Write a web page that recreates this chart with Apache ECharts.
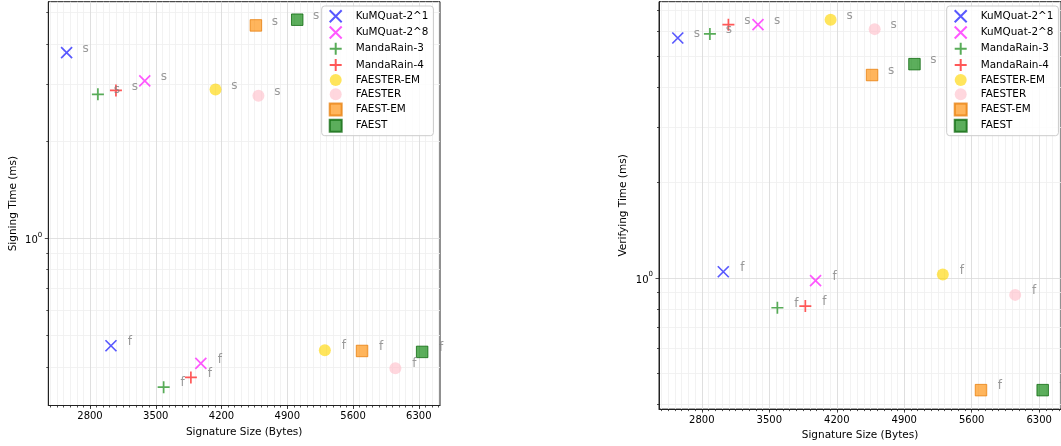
<!DOCTYPE html>
<html><head><meta charset="utf-8">
<script src="https://cdn.jsdelivr.net/npm/echarts@6/dist/echarts.min.js"></script>
<style>html,body{margin:0;padding:0;background:#fff}#c{width:1061px;height:446px}</style>
</head><body><div id="c"></div><script>
// ---- data ----
const schemes = ['KuMQuat-2^1','KuMQuat-2^8','MandaRain-3','MandaRain-4','FAESTER-EM','FAESTER','FAEST-EM','FAEST'];
const sizeS   = [2551, 3383, 2884, 3076, 4136, 4593, 4566, 5006];
const sizeF   = [3023, 3980, 3584, 3874, 5300, 6051, 5696, 6336];
const signS   = [3.755, 3.07, 2.79, 2.87, 2.89, 2.76, 4.56, 4.75];
const signF   = [0.465, 0.41, 0.346, 0.371, 0.45, 0.396, 0.448, 0.445];
const verifyS = [5.72, 6.30, 5.89, 6.30, 6.53, 6.10, 4.37, 4.73];
const verifyF = [1.047, 0.981, 0.806, 0.816, 1.027, 0.885, 0.443, 0.443];
const xMajorTicks = [2800, 3500, 4200, 4900, 5600, 6300];
const xMinorTicks = [];
for (let v = 2380; v <= 6510; v += 70) xMinorTicks.push(v);
const yMajorTicks = [1];
const yMinorLeft  = [0.4, 0.5, 0.6, 0.7, 0.8, 0.9, 2, 3, 4, 5];
const yMinorRight = [0.4, 0.5, 0.6, 0.7, 0.8, 0.9, 2, 3, 4, 5, 6, 7];
const pointTags = ['s', 'f'];

// ---- styles ----
const FONT = 'DejaVu Sans';
const XP = 'path://M0,0L10,10M10,0L0,10';
const PP = 'path://M5,0L5,10M0,5L10,5';
const SQ = 'path://M0,0L10,0L10,10L0,10Z';
const styles = [
  {symbol: XP, size: 11, stroke: 'rgba(0,0,255,0.82)'},
  {symbol: XP, size: 11, stroke: 'rgba(255,0,255,0.82)'},
  {symbol: PP, size: 12, stroke: 'rgba(0,128,0,0.82)'},
  {symbol: PP, size: 12, stroke: 'rgba(255,0,0,0.82)'},
  {symbol: 'circle', size: 12, fill: 'rgba(255,215,0,0.8)'},
  {symbol: 'circle', size: 12, fill: 'rgba(255,192,203,0.8)'},
  {symbol: SQ, size: 11.5, fill: 'rgba(255,140,0,0.8)', edge: 'rgba(230,120,0,0.9)'},
  {symbol: SQ, size: 11.5, fill: 'rgba(0,128,0,0.8)', edge: 'rgba(0,95,0,0.9)'}
];

const grids = [
  {left: 48.3, top: 1.7, width: 391.7, height: 403.8, show: true, borderColor: '#222', borderWidth: 1, backgroundColor: 'transparent'},
  {left: 659, top: 1.7, width: 405, height: 411.3, show: true, borderColor: '#222', borderWidth: 1, backgroundColor: 'transparent'}
];
const yRanges = [[0.3037, 5.40], [0.386, 7.445]];
const xRange = [2356, 6526];

const xAxes = [], yAxes = [];
[0, 1].forEach(g => {
  xAxes.push({type: 'value', gridIndex: g, min: xRange[0], max: xRange[1], position: 'bottom',
    axisLine: {show: false}, axisLabel: {show: false},
    axisTick: {show: true, customValues: xMinorTicks, length: 2, lineStyle: {color: '#222', width: 0.8}},
    splitLine: {show: true, customValues: xMinorTicks, lineStyle: {color: '#efefef', width: 0.8}}, z: 1});
  xAxes.push({type: 'value', gridIndex: g, min: xRange[0], max: xRange[1], position: 'bottom',
    name: 'Signature Size (Bytes)', nameLocation: 'middle', nameGap: g === 0 ? 21 : 20,
    nameTextStyle: {fontFamily: FONT, fontSize: 10.5, color: '#000'},
    axisLine: {show: true, lineStyle: {color: '#222', width: 1}},
    axisTick: {show: true, customValues: xMajorTicks, length: 3.5, lineStyle: {color: '#222', width: 0.8}},
    axisLabel: {show: true, customValues: xMajorTicks, margin: 6, fontFamily: FONT, fontSize: 10, color: '#000',
      formatter: v => String(Math.round(v))},
    splitLine: {show: true, customValues: xMajorTicks, lineStyle: {color: '#d9d9d9', width: 0.8}}, z: 2});
  const yMinor = g === 0 ? yMinorLeft : yMinorRight;
  yAxes.push({type: 'log', gridIndex: g, min: yRanges[g][0], max: yRanges[g][1], position: 'left',
    axisLine: {show: false}, axisLabel: {show: false},
    axisTick: {show: true, customValues: yMinor, length: 2, lineStyle: {color: '#222', width: 0.8}},
    splitLine: {show: true, customValues: yMinor, lineStyle: {color: '#efefef', width: 0.8}}, z: 1});
  yAxes.push({type: 'log', gridIndex: g, min: yRanges[g][0], max: yRanges[g][1], position: 'left',
    name: g === 0 ? 'Signing Time (ms)' : 'Verifying Time (ms)', nameLocation: 'middle', nameGap: 30,
    nameTextStyle: {fontFamily: FONT, fontSize: 10.5, color: '#000'},
    axisLine: {show: true, lineStyle: {color: '#222', width: 1}},
    axisTick: {show: true, customValues: yMajorTicks, length: 3.5, lineStyle: {color: '#222', width: 0.8}},
    axisLabel: {show: true, customValues: yMajorTicks, margin: 6,
      formatter: () => '{b|10}{s|0}',
      rich: {b: {fontFamily: FONT, fontSize: 10, color: '#000', lineHeight: 14, verticalAlign: 'bottom'},
             s: {fontFamily: FONT, fontSize: 7, color: '#000', lineHeight: 7, verticalAlign: 'top'}}},
    splitLine: {show: true, customValues: yMajorTicks, lineStyle: {color: '#d9d9d9', width: 0.8}}, z: 2});
});

const series = [];
[0, 1].forEach(g => {
  const ys = g === 0 ? [signS, signF] : [verifyS, verifyF];
  schemes.forEach((name, i) => {
    const st = styles[i];
    const itemStyle = st.stroke
      ? {color: 'rgba(0,0,0,0)', borderColor: st.stroke, borderWidth: 1.7}
      : {color: st.fill, borderColor: st.edge || st.fill, borderWidth: st.edge ? 1 : 0};
    series.push({
      type: 'scatter', name, xAxisIndex: g * 2 + 1, yAxisIndex: g * 2 + 1,
      symbol: st.symbol, symbolSize: st.size, symbolKeepAspect: true, itemStyle,
      data: [
        {name: pointTags[0], value: [sizeS[i], ys[0][i]]},
        {name: pointTags[1], value: [sizeF[i], ys[1][i]]}
      ],
      label: {show: true, position: 'inside', offset: [19, -4], formatter: '{b}',
        color: '#808080', fontFamily: FONT, fontSize: 12},
      emphasis: {disabled: true}, z: 5
    });
  });
});

const legendBase = {
  orient: 'vertical', top: 6, itemWidth: 30, itemHeight: 12, itemGap: 2.2,
  padding: [3.3, 5, 3, 7], backgroundColor: 'rgba(255,255,255,0.8)',
  borderColor: '#cccccc', borderWidth: 1, borderRadius: 3,
  textStyle: {fontFamily: FONT, fontSize: 10.4, color: '#000'},
  data: schemes.map(n => ({name: n})), selectedMode: false
};

const chart = echarts.init(document.getElementById('c'), null, {renderer: 'canvas'});
chart.setOption({
  animation: false,
  backgroundColor: '#fff',
  grid: grids,
  xAxis: xAxes,
  yAxis: yAxes,
  legend: [Object.assign({left: 321.7}, legendBase), Object.assign({left: 946.7}, legendBase)],
  series
});
</script></body></html>
